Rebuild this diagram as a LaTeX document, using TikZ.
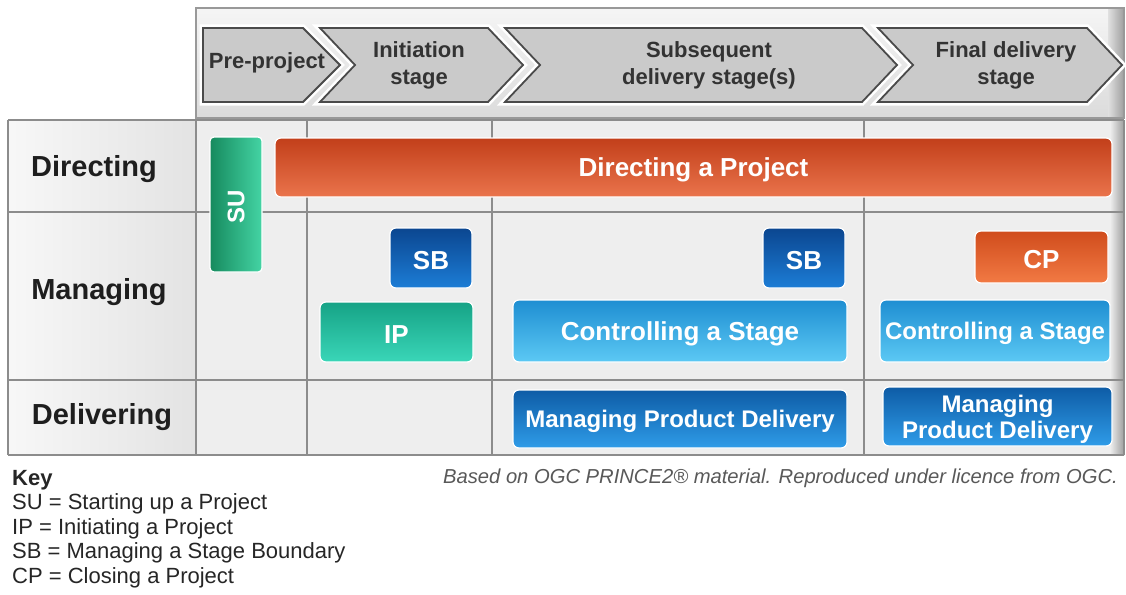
\documentclass[tikz,border=0pt]{standalone}
\usepackage{fontspec}
\setmainfont{Liberation Sans}
\usetikzlibrary{shapes.geometric}
\definecolor{gridc}{HTML}{8C8C8C}
\definecolor{cellc}{HTML}{EEEEEE}
\definecolor{chevf}{HTML}{CACACA}
\definecolor{chevd}{HTML}{4A4A4A}
\definecolor{labc}{HTML}{1E1E1E}
\definecolor{redT}{HTML}{C23F1A}
\definecolor{redB}{HTML}{EA744C}
\definecolor{grnL}{HTML}{168A5E}
\definecolor{grnM}{HTML}{2DC290}
\definecolor{grnR}{HTML}{44D4A4}
\definecolor{sbT}{HTML}{0B4690}
\definecolor{sbB}{HTML}{1C7DD6}
\definecolor{ipT}{HTML}{16A386}
\definecolor{ipB}{HTML}{3AD6B8}
\definecolor{csT}{HTML}{1E8ED2}
\definecolor{csB}{HTML}{5CC9F4}
\definecolor{mpT}{HTML}{0E5CA6}
\definecolor{mpB}{HTML}{2F9CE8}
\definecolor{cpT}{HTML}{D04C1C}
\definecolor{cpB}{HTML}{F27A44}
\begin{document}
\begin{tikzpicture}[x=1pt,y=-1pt,
  gridline/.style={draw=gridc,line width=2pt},
  chevshape/.style={fill=chevf,draw=chevd,line width=1.8pt,line join=miter},
  chevhalo/.style={draw=white,line width=7pt,line join=miter},
  chevtext/.style={font=\bfseries\fontsize{22}{27}\selectfont,text=black!80,align=center,inner sep=0pt},
  rowlab/.style={font=\bfseries\fontsize{29}{30}\selectfont,text=labc,inner sep=0pt},
  btn/.style={rounded corners=6pt,draw=white,line width=1.2pt,inner sep=0pt},
  btntext/.style={font=\bfseries\fontsize{#1}{#1}\selectfont,text=white,inner sep=0pt,align=center,yshift=-2.5pt},
  keytext/.style={font=\fontsize{22}{24.5}\selectfont,text=black!85,inner sep=0pt,anchor=north west,align=left}
]
\useasboundingbox (0,0) rectangle (1126,594);
\fill[white] (0,0) rectangle (1126,594);

% header box
\shade[top color=white!96!black, bottom color=white!86!black] (196,8) rectangle (1124,118);
\shade[left color=white!88!black, right color=white!62!black] (1108,8) rectangle (1124,118);
\draw[draw=white!60!black,line width=1.5pt] (196,8) rectangle (1124,118);

% chevrons
\draw[chevhalo] (203,28) -- (303,28) -- (340,65) -- (303,102) -- (203,102) -- cycle;
\draw[chevhalo] (320,28) -- (488,28) -- (523,65) -- (488,102) -- (320,102) -- (355,65) -- cycle;
\draw[chevhalo] (505,28) -- (862,28) -- (897,65) -- (862,102) -- (505,102) -- (540,65) -- cycle;
\draw[chevhalo] (878,28) -- (1087,28) -- (1122,65) -- (1087,102) -- (878,102) -- (913,65) -- cycle;
\draw[chevshape] (203,28) -- (303,28) -- (340,65) -- (303,102) -- (203,102) -- cycle;
\draw[chevshape] (320,28) -- (488,28) -- (523,65) -- (488,102) -- (320,102) -- (355,65) -- cycle;
\draw[chevshape] (505,28) -- (862,28) -- (897,65) -- (862,102) -- (505,102) -- (540,65) -- cycle;
\draw[chevshape] (878,28) -- (1087,28) -- (1122,65) -- (1087,102) -- (878,102) -- (913,65) -- cycle;
\node[chevtext] (pre) at (267,63) {Pre-project};
\node[chevtext] (ini) at (419,65) {Initiation\\stage};
\node[chevtext] (sub) at (709,65) {Subsequent\\delivery stage(s)};
\node[chevtext] (fin) at (1006,65) {Final delivery\\stage};

% grid cells
\fill[cellc] (196,120) rectangle (1124,455);
\shade[left color=white!97!black, right color=white!89!black] (8,120) rectangle (196,455);
\shade[left color=cellc, right color=white!62!black] (1110,120) rectangle (1124,455);
\foreach \yy in {120,212,380,455} \draw[gridline] (8,\yy) -- (1124,\yy);
\foreach \xx in {8,196,307,492,864,1124} \draw[gridline] (\xx,120) -- (\xx,455);

% row labels
\node[rowlab] (rdir) at (94,169) {Directing};
\node[rowlab] (rman) at (99,292) {Managing};
\node[rowlab] (rdel) at (102,417) {Delivering};

% buttons
\node[btn,top color=redT,bottom color=redB,minimum width=837pt,minimum height=59pt] (dap) at (693.5,167.5) {};
\node[btntext=26] (daptext) at (dap.center) {Directing a Project};

\node[btn,left color=grnL,middle color=grnM,right color=grnR,rounded corners=4pt,minimum width=52pt,minimum height=135pt] (su) at (236,204.5) {};
\node[btntext=24,rotate=90,yshift=0pt] (sutext) at (su.center) {SU};

\node[btn,top color=sbT,bottom color=sbB,minimum width=82pt,minimum height=60pt] (sb1) at (431,258) {};
\node[btntext=26] (sb1text) at (sb1.center) {SB};

\node[btn,top color=ipT,bottom color=ipB,minimum width=153pt,minimum height=60pt] (ip) at (396.5,332) {};
\node[btntext=26] (iptext) at (ip.center) {IP};

\node[btn,top color=sbT,bottom color=sbB,minimum width=82pt,minimum height=60pt] (sb2) at (804,258) {};
\node[btntext=26] (sb2text) at (sb2.center) {SB};

\node[btn,top color=csT,bottom color=csB,minimum width=334pt,minimum height=62pt] (cs1) at (680,331) {};
\node[btntext=26] (cs1text) at (cs1.center) {Controlling a Stage};

\node[btn,top color=cpT,bottom color=cpB,minimum width=133pt,minimum height=52pt] (cp) at (1041.5,257) {};
\node[btntext=26] (cptext) at (cp.center) {CP};

\node[btn,top color=csT,bottom color=csB,minimum width=230pt,minimum height=62pt] (cs2) at (995,331) {};
\node[btntext=24] (cs2text) at (cs2.center) {Controlling a Stage};

\node[btn,top color=mpT,bottom color=mpB,minimum width=334pt,minimum height=58pt] (mp1) at (680,419) {};
\node[btntext=24] (mp1text) at (mp1.center) {Managing Product Delivery};

\node[btn,top color=mpT,bottom color=mpB,minimum width=229pt,minimum height=59pt] (mp2) at (997.5,416.5) {};
\node[btntext=24,font=\bfseries\fontsize{24}{26}\selectfont] (mp2text) at (mp2.center) {Managing\\Product Delivery};

% key
\node[keytext] (key) at (12,470) {\textbf{Key}\\SU = Starting up a Project\\IP = Initiating a Project\\SB = Managing a Stage Boundary\\CP = Closing a Project};

% credit
\node[font=\itshape\fontsize{20.2}{22}\selectfont,text=black!65,inner sep=0pt,anchor=east] (credit) at (1118,478) {Based on OGC PRINCE2\textregistered\ material. Reproduced under licence from OGC.};
\end{tikzpicture}
\end{document}
